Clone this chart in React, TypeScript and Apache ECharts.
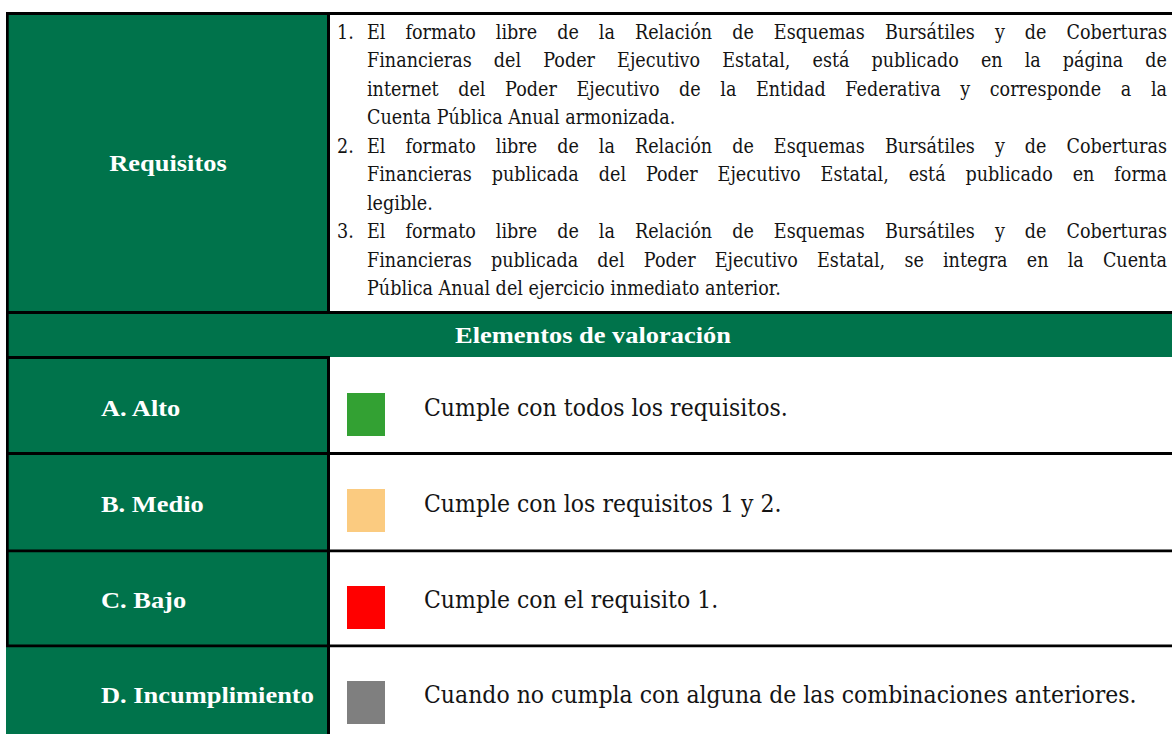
import React, { useEffect, useRef } from "react";
import * as echarts from "echarts";

// ---- data ----
const HEADER_LEFT = "Requisitos";
const HEADER_MID = "Elementos de valoración";
const REQ_NUMBERS = ["1.", "", "", "", "2.", "", "", "3.", "", ""];
const REQ_LINES = [
  "El formato libre de la Relación de Esquemas Bursátiles y de Coberturas",
  "Financieras del Poder Ejecutivo Estatal, está publicado en la página de",
  "internet del Poder Ejecutivo de la Entidad Federativa y corresponde a la",
  "Cuenta Pública Anual armonizada.",
  "El formato libre de la Relación de Esquemas Bursátiles y de Coberturas",
  "Financieras publicada del Poder Ejecutivo Estatal, está publicado en forma",
  "legible.",
  "El formato libre de la Relación de Esquemas Bursátiles y de Coberturas",
  "Financieras publicada del Poder Ejecutivo Estatal, se integra en la Cuenta",
  "Pública Anual del ejercicio inmediato anterior.",
];
const REQ_JUSTIFY = [true, true, true, false, true, true, false, true, true, false];
const LEVEL_LABELS = ["A. Alto", "B. Medio", "C. Bajo", "D. Incumplimiento"];
const LEVEL_TEXTS = [
  "Cumple con todos los requisitos.",
  "Cumple con los requisitos 1 y 2.",
  "Cumple con el requisito 1.",
  "Cuando no cumpla con alguna de las combinaciones anteriores.",
];
const LEVEL_COLORS = ["#33A133", "#FBCB80", "#FF0000", "#7F7F7F"];

// ---- styles / layout ----
const W = 1172;
const H = 734;
const GREEN = "#00734B";
const INK = "#141414";
const BODY_FAMILY = '"DejaVu Serif"';
const BODY_SIZE = 20.5;
const ROW_SIZE = 24;
const LABEL_FAMILY = '"Liberation Serif"';
const LABEL_SIZE = 22.5;

const measureCtx = (() => {
  const c = document.createElement("canvas");
  return c.getContext("2d")!;
})();
function measure(text: string, font: string) {
  measureCtx.font = font;
  return measureCtx.measureText(text).width;
}

function txt(text: string, x: number, y: number, sx: number, opts: any) {
  return {
    type: "text",
    x,
    y,
    scaleX: sx,
    silent: true,
    style: {
      text,
      x: 0,
      y: 0,
      fill: opts.fill,
      fontSize: opts.size,
      fontFamily: opts.family,
      fontWeight: opts.weight || "normal",
      align: opts.align || "left",
      textAlign: opts.align || "left",
      verticalAlign: "middle",
      textVerticalAlign: "middle",
    },
  };
}

function buildElements() {
  const els: any[] = [];
  const bodyFont = `${BODY_SIZE}px ${BODY_FAMILY}`;
  const rowFont = `${ROW_SIZE}px ${BODY_FAMILY}`;
  const labelFont = `bold ${LABEL_SIZE}px ${LABEL_FAMILY}`;

  const X0 = 367;
  const NUM_X = 337;
  const RIGHT = 1167;
  const firstWords = REQ_LINES[0].split(" ");
  const sxBody =
    (RIGHT - X0 - (firstWords.length - 1) * 20) / measure(firstWords.join(""), bodyFont);
  const sxRow = 713 / measure(LEVEL_TEXTS[3], rowFont);
  const sxLabel = 213 / measure(LEVEL_LABELS[3], labelFont);

  // backgrounds
  els.push({ type: "rect", shape: { x: 0, y: 0, width: W, height: H }, style: { fill: "#fff" }, silent: true });
  els.push({ type: "rect", shape: { x: 6, y: 12, width: 324, height: H - 12 }, style: { fill: GREEN }, silent: true });
  els.push({ type: "rect", shape: { x: 6, y: 312, width: W - 6, height: 45 }, style: { fill: GREEN }, silent: true });

  // borders
  const black = (x: number, y: number, w: number, h: number) =>
    els.push({ type: "rect", shape: { x, y, width: w, height: h }, style: { fill: "#000" }, silent: true });
  black(6, 12, W - 6, 3);
  black(6, 12, 2.7, 635);
  black(327, 12, 3, 302);
  black(327, 356, 3, H - 356);
  black(6, 311, W - 6, 3);
  black(6, 356, 324, 3);
  black(6, 452, W - 6, 3);
  black(6, 549.5, W - 6, 2.8);
  black(6, 644.5, W - 6, 2.7);

  // headers
  const lab = { fill: "#fff", size: LABEL_SIZE, family: LABEL_FAMILY, weight: "bold" };
  els.push(txt(HEADER_LEFT, 168, 163.5, sxLabel, { ...lab, align: "center" }));
  els.push(txt(HEADER_MID, 593, 335.5, sxLabel, { ...lab, align: "center" }));

  // requisites text
  const body = { fill: INK, size: BODY_SIZE, family: BODY_FAMILY };
  REQ_LINES.forEach((line, i) => {
    const cy = 32 + i * 28.5;
    if (REQ_NUMBERS[i]) els.push(txt(REQ_NUMBERS[i], NUM_X, cy, sxBody, body));
    if (REQ_JUSTIFY[i]) {
      const words = line.split(" ");
      const widths = words.map((w) => measure(w, bodyFont) * sxBody);
      const total = widths.reduce((a, b) => a + b, 0);
      const gap = (RIGHT - X0 - total) / (words.length - 1);
      let x = X0;
      words.forEach((w, k) => {
        els.push(txt(w, x, cy, sxBody, body));
        x += widths[k] + gap;
      });
    } else {
      els.push(txt(line, X0, cy, sxBody, body));
    }
  });

  // levels
  const ROW_CENTERS = [408, 504, 600, 695];
  const SWATCH_TOP = [393, 489, 586, 681];
  const row = { fill: INK, size: ROW_SIZE, family: BODY_FAMILY };
  LEVEL_LABELS.forEach((label, i) => {
    els.push(txt(label, 101, ROW_CENTERS[i], sxLabel, lab));
    els.push({
      type: "rect",
      shape: { x: 347, y: SWATCH_TOP[i], width: 38, height: 43 },
      style: { fill: LEVEL_COLORS[i] },
      silent: true,
    });
    els.push(txt(LEVEL_TEXTS[i], 424, ROW_CENTERS[i], sxRow, row));
  });
  return els;
}

export default function App() {
  const ref = useRef<HTMLDivElement>(null);
  useEffect(() => {
    if (!ref.current) return;
    const chart = echarts.init(ref.current, undefined, { renderer: "svg" });
    chart.setOption({
      animation: false,
      backgroundColor: "#fff",
      graphic: { elements: buildElements() },
    });
    return () => chart.dispose();
  }, []);
  return (
    <div
      ref={ref}
      style={{ position: "fixed", left: 0, top: 0, width: W, height: H, background: "#fff" }}
    />
  );
}
